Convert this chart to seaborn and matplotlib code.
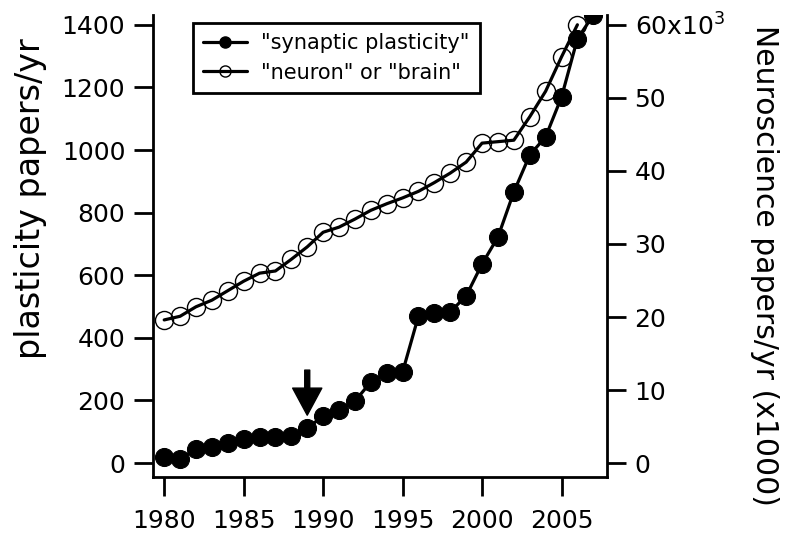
import matplotlib
matplotlib.use("Agg")
import matplotlib.pyplot as plt
import pandas as pd
import seaborn as sns
from matplotlib.lines import Line2D

# values
years = list(range(1980, 2008))
plasticity = [18, 14, 45, 50, 64, 77, 84, 84, 86, 112, 150, 170, 198, 259,
              287, 291, 470, 480, 483, 534, 636, 722, 866, 984, 1042, 1169,
              1355, 1431]
neuro_years = list(range(1980, 2007))
neuro = [19600, 20100, 21400, 22300, 23600, 24900, 26000, 26300, 27900,
         29600, 31600, 32300, 33400, 34600, 35500, 36300, 37200, 38400,
         39700, 41200, 43800, 44000, 44200, 47400, 50900, 55600, 60000]
right_ticks = [0, 10000, 20000, 30000, 40000, 50000, 60000]
right_labels = ["0", "10", "20", "30", "40", "50", "60x10$^3$"]
x_ticks = [1980, 1985, 1990, 1995, 2000, 2005]
y_ticks = [0, 200, 400, 600, 800, 1000, 1200, 1400]
arrow_year = 1989

sns.set_style("ticks", rc={"text.color": "black", "axes.labelcolor": "black",
                           "xtick.color": "black", "ytick.color": "black",
                           "axes.edgecolor": "black"})
plt.rcParams["font.family"] = ["DejaVu Sans"]
plt.rcParams["mathtext.fontset"] = "dejavusans"

df_p = pd.DataFrame({"year": years, "count": plasticity})
df_n = pd.DataFrame({"year": neuro_years, "count": neuro})

fig = plt.figure(figsize=(7.85, 5.38), dpi=100)
ax = fig.add_axes([0.195, 0.113, 0.578, 0.859])
ax2 = ax.twinx()

sns.lineplot(data=df_p, x="year", y="count", ax=ax, color="black",
             linewidth=2.3, marker="o", markersize=13, markerfacecolor="black",
             markeredgecolor="black", zorder=3)
sns.lineplot(data=df_n, x="year", y="count", ax=ax2, color="black",
             linewidth=2.3, marker="o", markersize=13, markerfacecolor="none",
             markeredgecolor="black", markeredgewidth=1.0, zorder=3)

ymin, ymax = -45, 1431
scale = 60000 / 1400
ax.set_ylim(ymin, ymax)
ax2.set_ylim(ymin * scale, ymax * scale)
ax.set_xlim(1979.3, 2007.85)

ax.set_xticks(x_ticks)
ax.set_yticks(y_ticks)
ax2.set_yticks(right_ticks)
ax2.set_yticklabels(right_labels)

for a in (ax, ax2):
    a.tick_params(axis="both", direction="out", length=14, width=2,
                  labelsize=18, pad=6)
    for s in a.spines.values():
        s.set_linewidth(2)
ax.tick_params(axis="x", pad=9)
ax.spines["top"].set_visible(False)
ax2.spines["top"].set_visible(False)
ax.spines["right"].set_visible(False)
ax2.spines["left"].set_visible(False)
ax2.spines["bottom"].set_visible(False)

# axis titles placed as in the original (not centred on the axes)
ax.set_xlabel("")
ax.set_ylabel("")
ax2.set_ylabel("")
fig.text(31 / 785, 1 - 199 / 538, "plasticity papers/yr", fontsize=24,
         rotation=90, ha="center", va="center")
fig.text(764 / 785, 1 - 265 / 538, "Neuroscience papers/yr (x1000)",
         fontsize=21.5, rotation=-90, ha="center", va="center")

# arrow marking 1989
ax.annotate("", xy=(arrow_year, 153), xytext=(arrow_year, 297),
            arrowprops=dict(width=3.6, headwidth=21, headlength=19.5,
                            facecolor="black", edgecolor="black", shrink=0))

handles = [
    Line2D([], [], color="black", lw=2.3, marker="o", markersize=8,
           markerfacecolor="black"),
    Line2D([], [], color="black", lw=2.3, marker="o", markersize=8,
           markerfacecolor="none", markeredgewidth=1.0),
]
leg = ax2.legend(handles, ['"synaptic plasticity"', '"neuron" or "brain"'],
                 loc="upper left", bbox_to_anchor=(193 / 785, 1 - 23 / 538),
                 bbox_transform=fig.transFigure, borderaxespad=0,
                 fontsize=15, frameon=True, fancybox=False, framealpha=1,
                 edgecolor="black", borderpad=0.5, handlelength=2.1,
                 handletextpad=0.65, labelspacing=0.45)
leg.get_frame().set_linewidth(2)

fig.savefig("out.png", dpi=100)
